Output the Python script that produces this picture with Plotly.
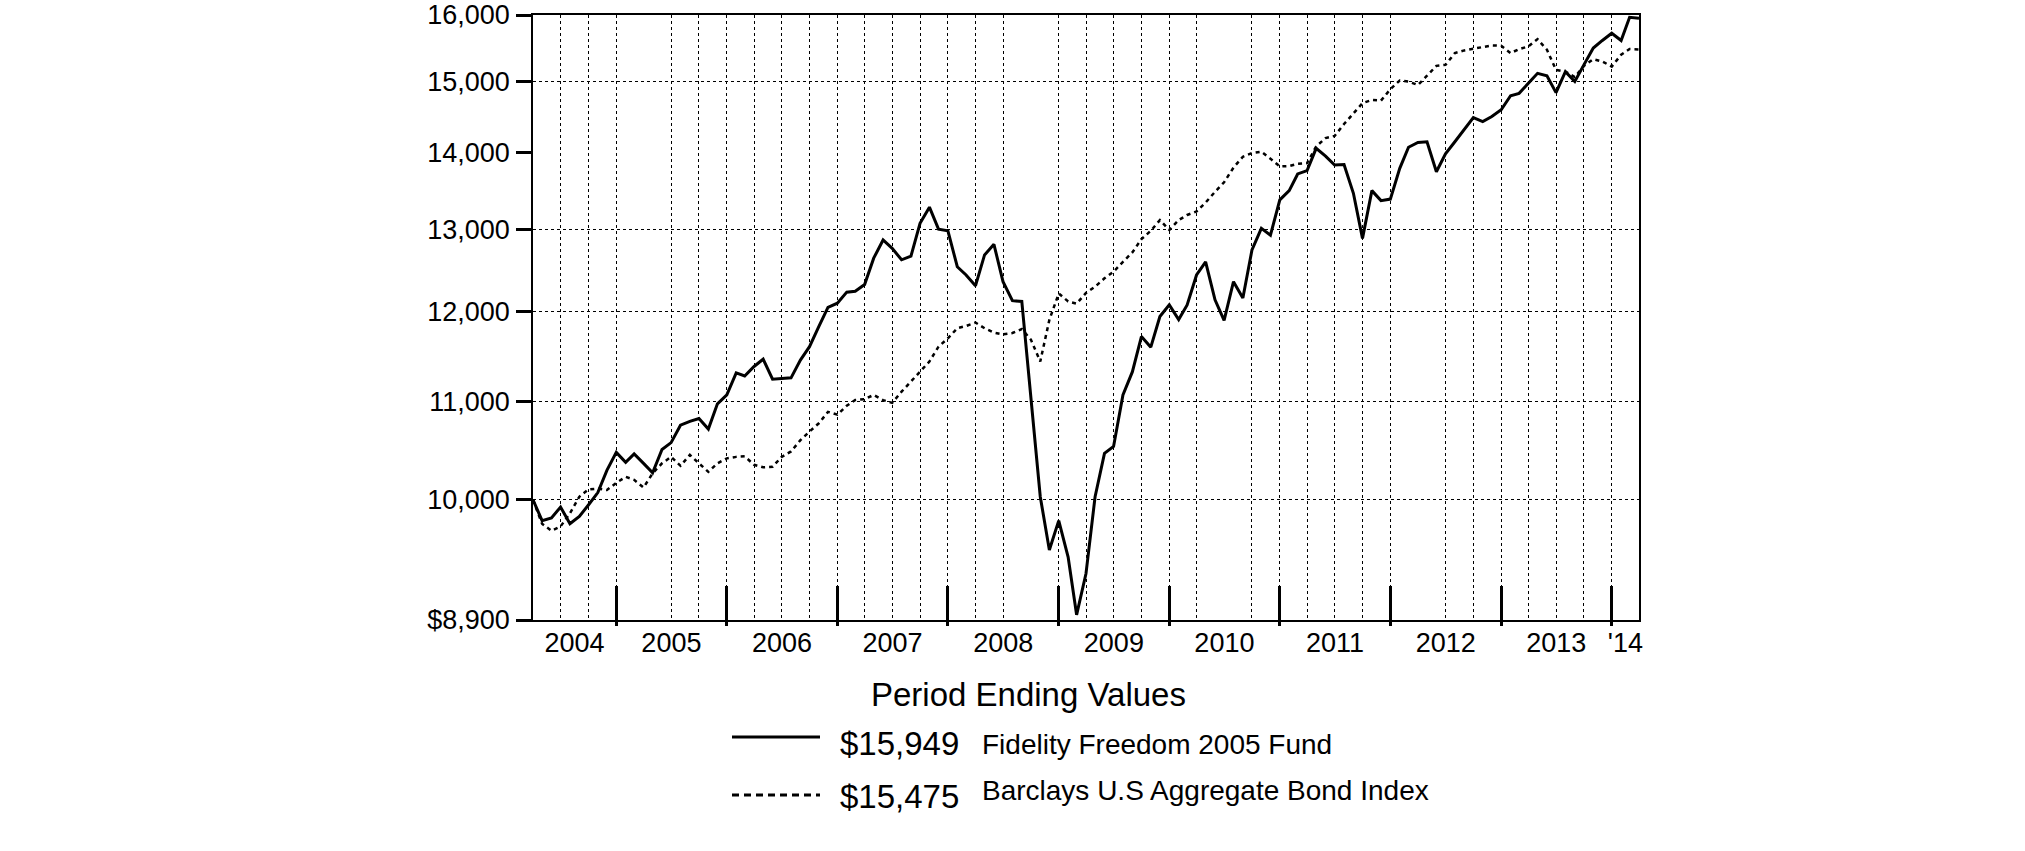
import pandas as pd
import numpy as np
import plotly.graph_objects as go

# ---------------- data ----------------
start_date = "2004-03-31"
n_months = 121

fund_name = "Fidelity Freedom 2005 Fund"
fund_end_label = "$15,949"
fund_values = [
    10000, 9800, 9825, 9930, 9770, 9840, 9950, 10070, 10290, 10470,
    10370, 10455, 10360, 10265, 10500, 10570, 10750, 10790, 10820, 10710,
    10975, 11070, 11310, 11275, 11380, 11460, 11240, 11245, 11255, 11450,
    11600, 11830, 12050, 12100, 12230, 12240, 12320, 12640, 12865, 12760,
    12620, 12665, 13075, 13280, 13000, 12980, 12535, 12435, 12305, 12680,
    12810, 12355, 12130, 12120, 11070, 10030, 9525, 9800, 9460, 8945,
    9310, 10030, 10460, 10530, 11070, 11320, 11715, 11595, 11945, 12080,
    11910, 12080, 12435, 12595, 12140, 11900, 12355, 12160, 12740, 13010,
    12925, 13375, 13495, 13715, 13760, 14060, 13955, 13835, 13840, 13460,
    12885, 13495, 13365, 13385, 13790, 14075, 14140, 14150, 13745, 13985,
    14150, 14315, 14485, 14430, 14500, 14595, 14795, 14830, 14975, 15120,
    15085, 14840, 15145, 15000, 15245, 15495, 15610, 15720, 15610, 15965,
    15949,
]

bond_name = "Barclays U.S Aggregate Bond Index"
bond_end_label = "$15,475"
bond_values = [
    10000, 9770, 9705, 9745, 9870, 10030, 10100, 10110, 10095, 10165,
    10225, 10195, 10120, 10260, 10360, 10425, 10335, 10445, 10360, 10275,
    10360, 10410, 10425, 10430, 10345, 10320, 10325, 10425, 10480, 10595,
    10685, 10770, 10890, 10860, 10955, 11015, 11025, 11070, 11015, 10985,
    11105, 11215, 11325, 11435, 11600, 11695, 11810, 11835, 11875, 11810,
    11760, 11740, 11755, 11800, 11680, 11435, 11905, 12215, 12120, 12095,
    12220, 12295, 12395, 12475, 12595, 12710, 12875, 12980, 13115, 12990,
    13115, 13180, 13225, 13340, 13480, 13605, 13800, 13945, 13995, 14015,
    13920, 13815, 13820, 13850, 13860, 14085, 14200, 14230, 14395, 14545,
    14690, 14735, 14725, 14890, 15015, 15000, 14950, 15085, 15230, 15245,
    15420, 15460, 15480, 15510, 15535, 15530, 15420, 15480, 15520, 15630,
    15470, 15170, 15145, 15065, 15230, 15330, 15295, 15220, 15395, 15480,
    15475,
]

y_tick_values = [8900, 10000, 11000, 12000, 13000, 14000, 15000, 16000]
y_tick_labels = ["$8,900", "10,000", "11,000", "12,000", "13,000", "14,000", "15,000", "16,000"]
y_grid_values = [10000, 11000, 12000, 13000, 15000]

year_label_positions = ["2004-08-15", "2005-07-01", "2006-07-01", "2007-07-01", "2008-07-01",
                        "2009-07-01", "2010-07-01", "2011-07-01", "2012-07-01", "2013-07-01",
                        "2014-02-14"]
year_labels = ["2004", "2005", "2006", "2007", "2008", "2009", "2010", "2011", "2012", "2013", "'14"]
year_boundaries = ["2004-12-31", "2005-12-31", "2006-12-31", "2007-12-31", "2008-12-31",
                   "2009-12-31", "2010-12-31", "2011-12-31", "2012-12-31", "2013-12-31"]
grid_quarters_skipped = ["2005-03-31", "2008-09-30", "2010-06-30", "2012-03-31"]

legend_title = "Period Ending Values"

# ---------------- build ----------------
dates = pd.date_range(start_date, periods=n_months, freq=pd.offsets.MonthEnd())
date_str = dates.strftime("%Y-%m-%d").tolist()
quarter_grid = [d for d in date_str[3:-1:3] if d not in grid_quarters_skipped]
x_range = [date_str[0], date_str[-1]]

FONT = "Arial, Liberation Sans, Helvetica, sans-serif"

fig = go.Figure()
fig.add_trace(go.Scatter(x=date_str, y=bond_values, mode="lines", name=bond_name,
                         line=dict(color="black", width=2.5, dash="4px,4px"),
                         showlegend=False, hoverinfo="skip"))
fig.add_trace(go.Scatter(x=date_str, y=fund_values, mode="lines", name=fund_name,
                         line=dict(color="black", width=3),
                         showlegend=False))
# empty helper traces so that the overlay tick axes get drawn
for ax in ("x2", "x3"):
    fig.add_trace(go.Scatter(x=[None], y=[None], xaxis=ax, yaxis="y", mode="lines",
                             showlegend=False, hoverinfo="skip"))

W, H = 2025, 851
L, R, T, B = 533, 1639, 15, 620


def px(xp):
    return (xp - L) / (R - L)


def py(yp):
    return (B - yp) / (B - T)


fig.update_layout(
    width=W, height=H,
    margin=dict(l=L, r=W - R, t=T, b=H - B, pad=0, autoexpand=False),
    paper_bgcolor="white", plot_bgcolor="white",
    font=dict(family=FONT, color="black"),
    xaxis=dict(
        type="date", range=x_range, automargin=False,
        tickmode="array", tickvals=year_label_positions, ticktext=year_labels,
        ticks="", showgrid=False, zeroline=False,
        tickfont=dict(size=27, family=FONT, color="black"),
        showline=True, linecolor="black", linewidth=1.5, mirror=True,
        minor=dict(tickmode="array", tickvals=quarter_grid, showgrid=True,
                   gridcolor="black", gridwidth=1, griddash="dot", ticks=""),
        ticklabelstandoff=-2, ticklabeloverflow="allow",
    ),
    xaxis2=dict(
        type="date", range=x_range, overlaying="x", anchor="y", side="bottom",
        automargin=False,
        tickmode="array", tickvals=year_boundaries, showticklabels=False,
        ticks="inside", ticklen=34, tickwidth=3, tickcolor="black",
        showgrid=False, zeroline=False, showline=False,
    ),
    xaxis3=dict(
        type="date", range=x_range, overlaying="x", anchor="y", side="bottom",
        automargin=False,
        tickmode="array", tickvals=year_boundaries, showticklabels=False,
        ticks="outside", ticklen=5, tickwidth=3, tickcolor="black",
        showgrid=False, zeroline=False, showline=False,
    ),
    yaxis=dict(
        type="log", range=[np.log10(8900), np.log10(16000)], automargin=False,
        tickmode="array", tickvals=y_tick_values, ticktext=y_tick_labels,
        ticks="outside", ticklen=15, tickwidth=3, tickcolor="black",
        showgrid=False, zeroline=False,
        tickfont=dict(size=27, family=FONT, color="black"),
        showline=True, linecolor="black", linewidth=1.5, mirror=True,
        minor=dict(tickmode="array", tickvals=y_grid_values, showgrid=True,
                   gridcolor="black", gridwidth=1, griddash="dot", ticks=""),
        ticklabelstandoff=1, ticklabeloverflow="allow",
    ),
)

# ---------------- legend block (manual) ----------------
annotations = [
    dict(text=legend_title, x=px(1028.5), y=py(694), xanchor="center", yanchor="middle",
         font=dict(size=33)),
    dict(text=fund_end_label, x=px(838), y=py(743), xanchor="left", yanchor="middle",
         font=dict(size=33)),
    dict(text=fund_name, x=px(980), y=py(744.5), xanchor="left", yanchor="middle",
         font=dict(size=28)),
    dict(text=bond_end_label, x=px(838), y=py(796), xanchor="left", yanchor="middle",
         font=dict(size=33)),
    dict(text=bond_name, x=px(980), y=py(790), xanchor="left", yanchor="middle",
         font=dict(size=28)),
]
for a in annotations:
    a.update(xref="paper", yref="paper", showarrow=False)
    a["font"].update(family=FONT, color="black")
fig.update_layout(annotations=annotations)

fig.add_shape(type="line", xref="paper", yref="paper", x0=px(732), x1=px(820),
              y0=py(737), y1=py(737), line=dict(color="black", width=3))
fig.add_shape(type="line", xref="paper", yref="paper", x0=px(732), x1=px(820),
              y0=py(795), y1=py(795), line=dict(color="black", width=3, dash="7px,5px"))

# remove the browser's default 8px page margin so the figure sits at the page origin
fig.write_html("out.html",
               config={"displayModeBar": False},
               post_script="document.body.style.margin='0';document.body.style.overflow='hidden';")
